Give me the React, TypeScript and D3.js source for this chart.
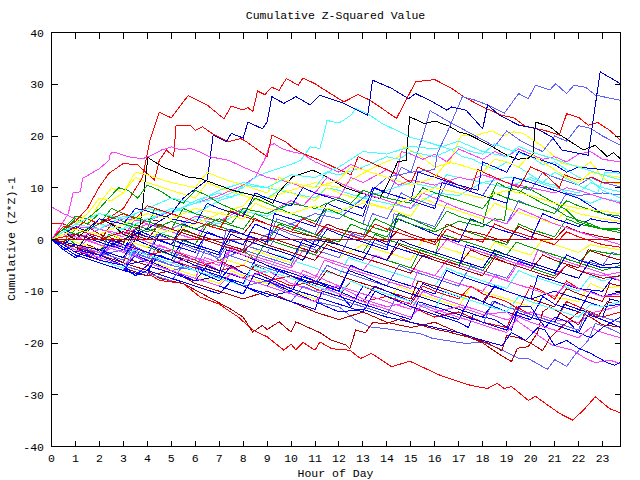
import React from "react";
import * as d3 from "d3";

type P = [number, number];

const title = "Cumulative Z-Squared Value";
const xLabel = "Hour of Day";
const yLabel = "Cumulative (Z*Z)-1";
const xTicks = d3.range(0, 24);
const yTicks = [-40, -30, -20, -10, 0, 10, 20, 30, 40];
const X_MAX = 23.75;

const C_RED = "#ff0000";
const C_DRED = "#b40000";
const C_BLUE = "#0000ff";
const C_DBLUE = "#0000c0";
const C_SLATE = "#6060ff";
const C_MAG = "#ff40ff";
const C_CYAN = "#40ffff";
const C_YEL = "#ffff00";
const C_GRN = "#00a000";
const C_BLK = "#000000";

const redA: P[] = [[0,0],[1,1],[2,3],[3,6],[3.8,12],[4.1,19],[4.5,24.6],[5,23.5],[5.7,27.8],[6.5,26],[7.2,23.3],[7.5,25.8],[8,25],[8.2,25.5],[8.4,24.7],[8.6,28.7],[8.9,28],[9.2,29.4],[9.5,28.8],[9.8,31.1],[10.3,29.8],[10.5,31.2],[11,30.1],[11.3,29.2],[12.2,26.6],[12.8,28],[13.3,26.9],[14.4,23.4],[15.2,30.5],[16,30.9],[16.7,29.2],[17.2,27.6],[18,25.6],[18.8,24],[19.3,23.5],[19.8,21.8],[20.5,21.2],[21.2,20.2],[21.5,24.3],[22,23.6],[22.4,22.1],[22.8,22.6],[23.3,21.1],[23.75,19.2]];
const dblueB: P[] = [[0,0],[1,-1],[2,-2],[3,0],[4,2],[5,5],[5.5,8],[6.5,11.5],[6.75,20.2],[7.3,18.9],[7.5,20.5],[8,19.6],[8.2,22.7],[8.8,21.4],[9,22.7],[9.2,27.6],[9.7,26.3],[10.2,27.6],[10.8,26],[11.2,27.9],[12.2,26.3],[13.2,24],[13.4,30.8],[14.2,29.2],[14.9,27.2],[15.2,28.2],[15.9,26.6],[16.5,25],[16.7,25.6],[17.3,25],[18,21.4],[18.2,26],[18.7,24],[19.5,22.1],[20.2,21.5],[20.9,19.8],[21.3,17.3],[22.4,16.3],[22.9,32.4],[23.75,30.1]];
const redC: P[] = [[0,0],[0.5,2],[1,3.5],[1.5,6],[2,10.2],[2.4,12.8],[3,14.7],[3.6,14.4],[4.3,11.5],[4.5,15.3],[4.8,17.3],[5.1,16],[5.2,22.1],[5.8,22],[6,21.1],[6.3,21.8],[6.7,20.5],[7.4,18.9],[7.9,19.5],[8.1,19],[9,16],[9.2,20.2],[9.8,18.8],[10.1,17.6],[10.5,16.6],[11.2,15.3],[12,13.5],[12.5,12.5],[12.8,16],[13.5,14.5],[14.5,12.5],[15,11],[15.3,14],[16,12.5],[17,10.5],[17.5,9.5],[17.8,13.5],[18.5,12],[19.5,10],[20,14],[20.5,13],[21.2,10],[21.4,12.5],[22,11.5],[22.6,12],[23,11],[23.75,11.1]];
const redD: P[] = [[0,0],[0.5,-1],[1,-2],[2,-3.5],[3,-5],[4,-6.5],[4.5,-7.9],[5.5,-8.5],[6.2,-11.1],[7,-12.5],[7.8,-15],[8.4,-17.5],[9,-18.8],[9.7,-21.4],[10,-20.2],[10.2,-21.3],[10.5,-19.9],[11,-21.4],[11.2,-19.8],[11.7,-21.1],[12.45,-21.4],[12.9,-23],[13.35,-22],[14.2,-24.6],[14.95,-23.5],[16.2,-26.2],[16.7,-27],[17.5,-28.2],[18.2,-28.8],[18.6,-27.8],[18.9,-28.8],[19.2,-28.4],[19.9,-31.1],[20.2,-30.3],[21.2,-33.6],[21.75,-34.9],[22.2,-33],[22.7,-30.4],[23.3,-32.7],[23.75,-33.5]];
const dredE: P[] = [[0,0],[1,-1.5],[2,-3],[3,-4.5],[4,-6],[4.5,-7.5],[5.5,-8.5],[6.5,-11],[7.5,-13.5],[8,-15],[8.4,-17.9],[8.8,-16.6],[9,-17.4],[9.5,-15.9],[10,-17.9],[10.2,-15.9],[11.2,-18],[11.7,-19.5],[12.3,-20.4],[12.45,-21.1],[12.7,-17.5],[13.1,-18],[13.4,-16.1],[14,-16.2],[14.6,-15.3],[15,-16],[15.9,-17.2],[16.6,-17.9],[17.5,-19],[18.2,-20],[18.8,-21.5],[19,-18.5],[19.5,-19],[20,-20],[20.5,-21.5],[20.8,-19],[21.5,-16],[22,-14],[22.5,-15],[23,-16.5],[23.75,-16.9]];
const blackF: P[] = [[0,0],[0.5,1.5],[1,0],[1.5,2],[2,4],[2.5,3],[3,1],[3.6,0],[3.8,6],[3.9,11],[4.03,16],[4.1,15.6],[4.65,14],[5.2,13],[5.65,12.1],[6.2,11.8],[7.57,9.5],[8.7,8.2],[9.24,7],[9.45,8.9],[9.8,10.8],[10.07,12.1],[10.5,12.8],[10.9,13.4],[11.2,12.8],[12.3,9.9],[13,8.9],[13.7,7.9],[14,10.5],[14.25,13],[14.45,15],[14.8,15.3],[14.95,23.7],[15.57,22.4],[16,22.9],[16.6,21.9],[17,20.8],[17.4,20.3],[18.3,18.2],[19,16.3],[19.45,15.5],[19.9,15.7],[20.1,16.5],[20.2,22.7],[20.8,21.8],[21.2,20.3],[22.2,17.3],[22.7,18.2],[23.2,16],[23.45,16.8],[23.75,15.6]];
const slateG: P[] = [[0,0],[1,-1.5],[2,-2.5],[3,-4],[3.4,-1],[4,-3],[5,-5],[6,-6],[6.4,-2],[7,-4],[8,-2],[9,1],[10,3],[11,5],[12,4],[13,8],[14,12],[15,13],[16,13.5],[16.1,16.6],[16.5,20.5],[17.15,27.6],[17.7,26.9],[18.2,26],[18.9,24.4],[19.5,28.2],[19.9,27.2],[20.2,29.8],[20.8,28.9],[21.05,30.1],[21.5,28.2],[21.8,29.8],[22.3,29.4],[22.7,27.9],[23.75,26.9]];
const cyanI: P[] = [[0,0],[1,1],[2,0],[3,2],[4,4],[5,5.5],[6,7],[7,8],[8,10],[8.5,12],[9,13],[10,14.5],[10.4,15.3],[10.8,17.9],[11.2,17.6],[11.35,20],[11.5,23],[12,22.5],[12.5,24],[12.7,25.3],[13.2,24.3],[13.8,22.4],[14.4,21.1],[14.95,19.8],[15.65,18.9],[16.7,17.3],[17.15,16],[17.6,15.5],[18,14.5],[18.5,13.5],[19,15],[19.5,14],[20,12.5],[20.5,11],[21,13],[21.6,11.5],[22.2,10],[22.8,9],[23.1,13],[23.75,12.8]];
const magJ: P[] = [[0,0],[0.3,2],[0.7,5],[0.9,9],[1.2,9.2],[1.3,11.8],[2,13.7],[2.4,15.3],[2.45,16.6],[2.6,16.9],[3.2,16],[3.8,15.6],[4.2,16.3],[4.6,17.3],[5,17.9],[5.4,17.3],[5.8,17.6],[6.2,16.9],[6.6,16],[7.4,15.3],[8,14],[9,12],[10,11],[11,9],[11.5,12],[12,11],[13,9],[14,7.5],[15,6],[15.5,9],[16,8],[17,6],[18,4.5],[19,3],[19.5,6],[20,5],[21,3],[22,1.5],[23,0],[23.75,-1]];
const blueM: P[] = [[0,0],[1,-2],[2,-3],[3,-5],[4,-4],[5,-6],[6,-8],[7,-7],[8,-9],[9,-11],[10,-10],[11,-12],[12,-14],[13,-13.5],[14,-15],[15,-16],[16,-17],[17,-18],[18,-19.5],[18.8,-20.5],[19.2,-18],[19.8,-19.5],[20.3,-17],[20.6,-17.5],[21,-20.5],[21.5,-19.5],[22,-21],[22.5,-22],[23.2,-23.8],[23.5,-24.3],[23.75,-23.7]];
const slate5: P[] = [[0,0],[1,-1.5],[2,-3],[3,-2],[4,-4.5],[5,-6],[6,-5],[7,-7.5],[8,-9],[9,-8],[10,-10.5],[11,-12],[12,-13],[12.7,-15.6],[13.3,-16.9],[13.9,-17.2],[15.4,-18.2],[15.9,-19.1],[17.3,-20.1],[18,-19.8],[18.7,-21.1],[19.5,-23],[19.9,-23],[20.7,-25.1],[21,-23.2],[21.5,-24.5],[21.9,-22],[22.4,-19.5],[22.7,-16.2],[23.2,-17],[23.75,-18.2]];
const mag5: P[] = [[0,0],[1,-1],[2,-2.5],[3,-1],[4,-3],[5,-4.5],[6,-3.5],[7,-6],[8,-7.5],[9,-6],[10,-8.5],[11,-10],[12,-9],[13,-11.5],[14,-13],[15,-12],[16,-14],[17,-13],[18,-14.5],[19,-14],[19.4,-15.6],[19.8,-16.9],[20.9,-20.4],[21.75,-21.4],[22.3,-23],[22.7,-23.8],[23.3,-23.3],[23.75,-24]];
const dred3: P[] = [[0,0],[1,-2],[2,-4],[3,-5.5],[4,-7],[5,-6],[6,-8.5],[7,-10],[8,-11.5],[9,-10],[10,-12],[11,-14],[12,-15.5],[13,-14],[14,-16],[15,-17],[16,-16],[17,-18],[18,-20],[18.8,-22.5],[19.2,-23.6],[19.45,-21],[19.9,-20.7],[20.3,-17.9],[20.5,-14],[20.8,-13],[21,-13.5],[21.5,-15],[22,-16.5],[22.3,-14],[22.8,-15],[23.2,-12],[23.75,-12.7]];
const red2: P[] = [[0,0],[0.5,-1.5],[1,-1],[2,-3],[3,-4.5],[3.3,-1],[4,-2.5],[5,-4],[6,-5.5],[7,-4],[8,-6.5],[9,-8],[10,-7],[11,-9.5],[12,-11],[12.5,-8],[13,-9],[14,-11],[15,-12.5],[15.5,-9],[16,-10],[17,-11.5],[17.5,-9],[18,-10.5],[19,-12],[19.5,-13.5],[20,-9],[20.5,-10],[21,-11.5],[21.5,-8],[22,-9.5],[23,-11],[23.75,-11]];
const red3: P[] = [[0,3],[0.5,3],[1,2],[2,0.5],[3,-1],[4,-3],[5,-2],[6,-4],[7,-6],[8,-5],[9,-7],[10,-9],[11,-8],[12,-10],[13,-12],[14,-11],[15,-13],[16,-15],[17,-14],[18,-16],[19,-17],[19.4,-13],[20,-14.5],[21,-16],[21.5,-12],[22,-13],[23,-15],[23.75,-14]];
const blue4: P[] = [[0,0],[0.5,-2],[1,-1],[1.5,-3],[2,-2],[3,-4.5],[4,-6],[4.5,-3],[5,-4],[6,-6],[7,-8],[7.5,-5],[8,-6.5],[9,-8],[10,-10],[10.5,-7],[11,-8],[12,-10],[13,-12],[13.5,-9],[14,-10],[15,-12],[16,-14],[17,-15.5],[17.5,-11],[18,-12],[19,-14],[20,-15.5],[20.5,-11],[21,-12.5],[22,-14],[22.5,-10],[23,-11],[23.75,-10.1]];
const dblue2: P[] = [[0,0],[0.5,1],[1,-0.5],[2,-2],[3,-3.5],[3.5,0],[4,-1],[5,-3],[6,-5],[7,-6.5],[7.3,-2],[8,-3],[9,-5],[10,-7],[11,-8.5],[12,-10],[12.4,-6],[13,-7],[14,-9],[15,-10.5],[16,-12],[17,-13.5],[18,-15],[18.5,-12],[19,-13],[20,-14.5],[21,-16],[21.4,-12.5],[22,-13.5],[23,-15],[23.3,-11.5],[23.75,-12]];
const mag4: P[] = [[0,0],[0.5,-1],[1,-2.5],[2,-4],[2.5,-1],[3,-2],[4,-4],[5,-6],[6,-7.5],[6.4,-3.5],[7,-4.5],[8,-6.5],[9,-8],[10,-9.5],[10.5,-6],[11,-7],[12,-9],[13,-10.5],[14,-12],[15,-13.5],[15.5,-10],[16,-11],[17,-12.5],[18,-14],[19,-15.5],[20,-14],[21,-15.5],[22,-16],[22.7,-14],[23.2,-13.5],[23.75,-12.7]];
const blue5: P[] = [[0,0],[0.5,-1.5],[1,-3],[2,-4.5],[3,-6],[3.5,-3],[4,-4],[5,-6],[6,-7.5],[7,-9],[8,-10.5],[8.5,-6.5],[9,-7.5],[10,-9.5],[11,-11],[12,-12.5],[13,-14],[13.5,-10],[14,-11],[15,-13],[16,-14.5],[17,-16],[17.4,-17],[17.6,-14.5],[18.5,-15.5],[19.2,-17.5],[19.5,-13],[20,-13],[20.6,-17],[21,-15],[21.6,-16],[22,-18],[22.5,-19],[23,-17],[23.75,-15]];
const blue2: P[] = [[0,0],[0.5,-1],[1,1],[2,-0.5],[3,-2],[3.5,2],[4,1],[5,-1],[5.5,3],[6,2],[7,0.5],[8,-1],[8.5,3],[9,2],[10,0],[11,-1.5],[11.5,2],[12,1],[13,-0.5],[14,-2],[14.4,4],[15,3],[16,1],[17,-0.5],[17.5,4],[18,3],[19,1.5],[20,0],[20.5,5],[21,4],[22,2.5],[22.5,4],[23,3.5],[23.75,3.1]];
const green1: P[] = [[0,0],[0.5,1.5],[1,4],[1.5,3],[2,5],[3,3.5],[4,2],[4.3,6],[5,5],[6,3.5],[7,2],[7.5,6],[8,5],[9,3],[10,1.5],[10.5,4],[11,3],[12,1.5],[13,0],[13.5,4],[14,3],[15,1],[16,-0.5],[16.5,3],[17,2],[18,0.5],[19,-1],[19.5,3],[20,2],[21,0.5],[21.5,4],[22,3],[23,2],[23.75,2.2]];
const green2: P[] = [[0,0],[0.5,2],[1,1],[2,3],[2.5,6],[3,5],[4,3.5],[5,2],[5.5,6],[6,5],[7,3.5],[8,2],[8.5,5],[9,4],[10,2.5],[11,1],[12,-0.5],[12.5,3],[13,2],[14,0.5],[14.5,4],[15,3],[16,1.5],[17,3.5],[18,2.5],[18.5,4],[18.9,3.7],[19.1,9.5],[19.5,9],[19.8,10.2],[20.3,8.9],[20.9,7.3],[21.5,5.7],[22,3.4],[22.9,2.1],[23.75,1.8]];
const green3: P[] = [[0,0],[0.5,-0.5],[1,2],[2,0.5],[3,-1],[3.4,3],[4,2],[5,0.5],[6,-1],[6.5,3],[7,2.5],[8,1],[9,-0.5],[9.5,3],[10,2],[11,0.5],[12,-1],[13,-2.5],[13.5,1],[14,0],[15,-1.5],[16,-3],[16.3,1],[17,0],[18,-1.5],[19,-3],[19.4,-0.5],[20,-1.5],[21,-3],[22,-4.5],[22.5,-2],[23,-2.5],[23.75,-3]];
const green4: P[] = [[0,0],[0.5,1],[1,-1],[2,-2.5],[2.4,1],[3,0],[4,-1.5],[5,-3],[5.3,2],[6,1],[7,-0.5],[8,-2],[8.5,-4],[9,0],[10,-1.5],[11,-3],[11.5,0],[12,-1],[13,-2.5],[14,-4],[15,-5.5],[15.4,-2],[16,-3],[17,-4.5],[18,-6],[18.5,-3],[19,-4],[20,-5.5],[21,-7],[21.3,-3.5],[22,-4.5],[23,-6],[23.75,-5]];
const green5: P[] = [[0,0],[0.5,2],[1,4.5],[1.5,4],[2,6],[2.8,10],[3.2,9.5],[3.6,8],[4,10.5],[4.5,9.5],[5,8],[5.5,7],[6,9.5],[6.5,8.5],[7,7],[8,5],[8.5,8],[9,7],[10,5],[11,3.5],[11.5,6],[12,5],[13,3],[14,1.5],[14.5,5],[15,4],[16,2],[16.5,5.5],[17,4.5],[18,3],[18.3,8],[18.6,11],[19,10],[19.5,9.5],[20.5,7],[21,6],[21.5,4.5],[22.5,3],[23,2],[23.75,1.3]];
const green6: P[] = [[0,0],[0.5,1],[1,2],[2,1],[3,3],[4,1.5],[5,3.5],[6,2],[7,4],[7.5,3],[8,6],[9,5],[10,7],[11,6],[12,8],[12.5,7],[13,9.5],[14,8],[15,7],[15.5,10],[16,9],[17,7.5],[18,6],[18.5,9],[19,8],[20,6.5],[21,5],[21.5,7.5],[22,6.5],[23,5],[23.75,4.5]];
const dred1: P[] = [[0,0],[0.5,1],[1,3],[1.5,2.5],[2,1],[3,-0.5],[3.5,2],[4,4],[4.5,3.5],[5,5],[6,3.5],[7,2],[8,1],[8.5,4],[9,3],[10,1.5],[11,0.5],[11.5,3],[12,2],[13,1],[14,-0.5],[14.5,2],[15,1],[16,-0.5],[16.5,3],[17,2],[18,1],[19,-0.5],[19.5,2.5],[20,1.5],[21,0],[21.5,2.5],[22,1.5],[23,0.5],[23.75,-0.1]];
const dred2: P[] = [[0,0],[0.5,2],[1,1],[2,-0.5],[2.5,3],[3,2],[4,0.5],[5,-1],[5.5,2],[6,1],[7,-0.5],[8,-2],[8.3,1.5],[9,0.5],[10,-1],[11,-2.5],[11.5,0],[12,-1],[13,-2.5],[14,-4],[14.5,-1],[15,-2],[16,-3.5],[17,-5],[17.5,-2],[18,-3],[19,-4.5],[20,-6],[20.5,-3],[21,-4],[22,-5.5],[22.4,-2],[23,-3],[23.75,-4]];
const dred4: P[] = [[0,0],[0.5,-1],[1,-2.5],[1.5,-1],[2,-2],[3,-3.5],[4,-5],[4.5,-2],[5,-3],[6,-4.5],[7,-6],[8,-7.5],[8.5,-5],[9,-6],[10,-7.5],[11,-9],[11.5,-6],[12,-7],[13,-8.5],[14,-10],[15,-11.5],[15.3,-8],[16,-9],[17,-10.5],[18,-12],[18.5,-9],[19,-10],[20,-11.5],[21,-13],[21.5,-9.5],[22,-10.5],[23,-12],[23.3,-8.5],[23.75,-9]];
const dred5: P[] = [[0,0],[0.5,-0.5],[1,1],[2,0],[3,1.5],[4,0],[4.5,3],[5,2],[6,0.5],[7,-1],[8,-2.5],[8.5,0],[9,-1],[10,-2.5],[11,-4],[11.5,-1],[12,-2],[13,-3.5],[14,-5],[15,-6.5],[15.5,-3],[16,-4],[17,-5.5],[18,-7],[18.5,-3.5],[19,-4.5],[20,-6],[21,-7.5],[21.5,-5],[22,-6],[23,-7.5],[23.75,-7]];
const yel1: P[] = [[0,0],[0.5,1],[1,-0.5],[2,-2],[2.5,1],[3,0],[4,-1.5],[4.5,2],[5,1.5],[6,3],[7,5],[8,6.5],[8.5,9],[9,8],[10,9.5],[11,11],[12,10],[13,12.8],[13.8,14.7],[14.5,16],[14.7,17.9],[15.3,16.5],[16,14],[16.6,14.7],[16.9,18],[17.1,20.1],[17.6,20],[18,20.5],[18.4,21],[18.8,20],[19.3,20.8],[19.7,20.5],[20,19.5],[20.5,18],[21,16],[21.3,14.7],[22.2,14],[22.5,15],[23,12],[23.3,11],[23.75,10.8]];
const yel2: P[] = [[0,0],[0.5,-1],[1,-2],[1.5,1],[2,0],[3,-1.5],[4,-3],[5,-4.5],[5.5,-1],[6,-2],[7,-3.5],[8,-5],[8.5,-2],[9,-3],[10,-4.5],[10.5,-1],[11,-2],[12,-3.5],[13,-1],[14,-2.5],[15,-4],[15.5,0],[16,-1],[17,-2.5],[18,-4],[18.5,-0.5],[19,-1.5],[20,-3],[20.5,0],[21,-1],[22,-2.5],[22.5,-1],[23,-1.5],[23.75,-2]];
const yel3: P[] = [[0,0],[0.5,-1.5],[1,-3],[2,-4.5],[3,-6],[3.5,-3],[4,-4],[5,-5.5],[6,-7],[7,-8.5],[7.5,-6],[8,-7],[9,-8.5],[10,-10],[11,-11.5],[11.5,-8],[12,-9],[13,-10.5],[14,-12],[14.5,-9],[15,-10],[16,-11.5],[17,-13],[17.5,-9],[18,-10],[19,-11.5],[20,-13],[20.5,-10],[21,-11],[22,-12],[22.5,-8.5],[23,-9.5],[23.75,-9]];
const yel4: P[] = [[0,0],[0.5,2],[1,3.5],[1.5,3],[2,7],[2.5,10],[3,9],[3.5,12],[4,11],[5,9.5],[6,8],[6.5,11],[7,10],[8,8.5],[9,7],[9.5,10],[10,9],[11,7.5],[11.5,10],[12,9],[13,7.5],[14,6],[15,4.5],[15.5,8],[16,7],[17,5.5],[18,4],[18.5,7],[19,6],[20,4.5],[21,3],[21.5,6],[22,5],[23,4],[23.75,3.5]];
const yel5: P[] = [[0,0],[0.5,1.5],[1,3],[1.5,5],[2,8],[2.5,7.5],[3,9],[3.5,13],[4,12.5],[5,11],[6,10],[6.5,13],[7,12],[8,10.5],[9,9],[9.5,12],[10,11],[11,10],[12,11.5],[12.5,14],[13,13.5],[14,12],[15,10.5],[16,12],[16.5,15],[17,14.5],[18,13],[18.5,15.5],[19,15],[19.5,14],[20,16.5],[20.5,15],[21,13.5],[21.5,12],[22,11],[22.5,13],[23,12.5],[23.75,12]];
const yel6: P[] = [[0,0],[0.5,1],[1,2],[2,1],[3,3],[4,5],[5,4],[6,6],[7,5],[8,4],[8.5,7],[9,6],[10,5],[11,6.5],[12,5.5],[13,7],[14,6],[15,8],[16,10],[17,9],[18,8],[19,9.5],[20,8.5],[21,7],[22,6],[23,5.5],[23.75,5]];
const mag1: P[] = [[0,0],[0.5,1],[1,0],[2,2],[3,1],[4,3],[5,2],[6,4.5],[7,3.5],[8,6],[9,5],[10,7.5],[10.5,6.5],[11,9],[12,8],[12.5,12],[13,11],[14,13.5],[14.4,12.5],[14.6,17],[15,16.5],[15.5,15.5],[16,16.5],[16.5,15],[17,17.5],[17.5,16.5],[18,15.5],[18.5,17],[19,16],[19.5,17.5],[20,16.5],[20.5,15.5],[21,16],[21.5,15],[22,16.5],[22.5,17],[23,15.5],[23.75,15]];
const mag2: P[] = [[0,0],[0.5,-1],[1,-2.5],[1.5,0],[2,-1],[3,-2.5],[4,-4],[4.5,-1],[5,-2],[6,-3.5],[7,-5],[7.5,-1.5],[8,-2.5],[9,-4],[10,-5.5],[10.5,-2],[11,-3],[12,-4.5],[13,-6],[13.5,-3],[14,-4],[15,-5.5],[16,-7],[16.5,-4],[17,-5],[18,-6.5],[19,-8],[19.5,-4.5],[20,-5.5],[21,-7],[21.5,-5],[22,-6],[23,-7],[23.75,-6.3]];
const mag3: P[] = [[0,6.3],[0.5,5],[1,4],[1.5,3],[2,2],[3,0.5],[3.5,4],[4,3],[5,1.5],[6,0],[6.5,3.5],[7,2.5],[8,1],[9,-0.5],[9.5,3],[10,2],[11,0.5],[12,-1],[13,-2.5],[13.5,1],[14,0],[15,-1.5],[16,-3],[16.5,0],[17,-1],[18,-2.5],[19,-4],[20,-5.5],[20.3,-2],[21,-3.5],[22,-5],[23,-6.5],[23.75,-8]];
const mag6: P[] = [[0,0],[0.5,1.5],[1,0.5],[2,-1],[3,-2.5],[3.5,0.5],[4,-0.5],[5,-2],[6,-3.5],[7,-5],[7.5,-2],[8,-3],[9,-4.5],[10,-6],[11,-7.5],[11.4,-4],[12,-5],[13,-6.5],[14,-8],[15,-9.5],[15.3,-6],[16,-7],[17,-8.5],[18,-10],[18.5,-7],[19,-8],[20,-9.5],[21,-11],[21.5,-8.5],[22,-9.5],[23,-11],[23.75,-10.5]];
const mag7: P[] = [[0,0],[1,-2],[2,-3.5],[3,-5],[3.5,-3],[4,-4.5],[5,-6],[6,-7.5],[7,-9],[7.5,-6.5],[8,-7.5],[9,-9],[10,-10.5],[11,-12],[11.5,-9.5],[12,-10.5],[13,-12],[14,-13.5],[15,-15],[15.5,-12.5],[16,-13.5],[17,-15],[18,-16.5],[19,-18],[19.5,-15],[20,-16],[21,-17.5],[22,-19],[22.5,-17],[23,-18],[23.75,-19]];
const magK: P[] = [[0,0],[0.5,1],[1,2.5],[2,2],[3,4],[4,3.5],[5,5.5],[6,7],[7,8.5],[8,10.5],[8.5,12],[8.9,15.5],[9.1,18.2],[9.3,18.5],[9.6,17.6],[10,17],[10.5,16.5],[11,15],[11.5,14],[12,13],[12.5,14.5],[13,13.5],[14,12],[14.5,10.5],[15,11.5],[16,10.5],[17,12],[17.5,11.5],[18,12.5],[19,11],[20,10],[21,9],[21.5,10],[22,9.5],[23,8],[23.75,7]];
const cyan2: P[] = [[0,0],[0.5,1.5],[1,1],[2,3],[3,2],[3.5,5],[4,6],[5,5],[6,7.5],[7,9],[7.5,8],[8,10.5],[9,10],[10,9],[11,8],[11.5,10],[12,9.5],[13,8],[14,9.5],[15,11],[16,10],[16.5,12.5],[17,12],[18,11],[19,12],[20,11.5],[21,10],[22,9],[22.5,11],[23,10],[23.75,9.2]];
const cyan3: P[] = [[0,0],[0.5,-1],[1,0.5],[2,-1],[3,-2.5],[3.5,1],[4,0],[5,2],[6,4],[7,3],[8,5.5],[9,4.5],[10,7],[11,6],[12,5],[13,8],[14,7],[15,6],[16,9],[17,8.5],[18,11],[19,10],[20,12],[20.5,11],[21,10.5],[21.5,9],[22,8],[22.5,7],[23,8],[23.75,7.3]];
const cyan4: P[] = [[0,0],[0.5,-0.5],[1,-2],[2,-3],[2.5,0],[3,-1],[4,-2.5],[5,-4],[5.5,-1],[6,-2],[7,-3.5],[8,-5],[9,-6.5],[9.5,-3],[10,-4],[11,-5.5],[12,-7],[12.4,-3.5],[13,-4.5],[14,-6],[15,-7.5],[16,-9],[16.5,-5.5],[17,-6.5],[18,-8],[19,-9.5],[19.5,-6],[20,-7],[21,-8.5],[22,-10],[22.5,-7],[23,-8],[23.75,-7]];
const cyan5: P[] = [[0,0],[0.5,1],[1,3],[2,2],[3,4.5],[4,3.5],[5,6],[6,5],[7,7.5],[8,9],[9,8],[10,11],[11,10],[11.5,13],[12,12.5],[13,14],[14,16],[14.5,15.5],[15,17],[16,16],[17,18],[17.5,17],[18,16.5],[18.5,18.5],[19,17.5],[20,16],[20.5,14.5],[21,15],[21.5,13.5],[22,12],[22.5,11.5],[23,9.5],[23.75,8]];
const cyan6: P[] = [[0,0],[0.5,-1],[1,-2.5],[2,-4],[3,-5.5],[3.4,-2],[4,-3],[5,-4.5],[6,-6],[7,-7.5],[8,-9],[8.4,-5],[9,-6],[10,-7.5],[11,-9],[12,-10.5],[12.5,-8],[13,-9],[14,-10.5],[15,-12],[16,-13.5],[16.4,-10],[17,-11],[18,-12.5],[19,-14],[19.5,-11],[20,-12],[21,-13.5],[22,-15],[22.5,-12.5],[23,-13],[23.75,-12]];
const cyan7: P[] = [[0,0],[0.5,1.5],[1,3],[2,5],[3,4],[4,6],[5,8],[6,7],[7,9.5],[8,11],[9,10],[10,12.5],[11,12],[12,14],[13,17],[14,16.5],[15,18],[16,17.5],[17,19],[18,17],[19,16],[19.5,18],[20,17],[21,15.5],[22,14],[23,12.5],[23.75,11.5]];
const slate2: P[] = [[0,0],[0.5,-1],[1,-2],[2,-3.5],[2.5,-1],[3,-2],[4,-3.5],[5,-5],[5.5,-1],[6,-2],[7,-3.5],[7.5,0],[8,-1],[9,-2.5],[9.5,2],[10,1],[11,-0.5],[11.5,3],[12,2],[13,0.5],[13.4,5],[14,4],[14.6,9],[15,8],[16,6.5],[16.5,11],[17,10],[18,8.5],[18.5,12],[19,11],[20,9.5],[20.5,13],[21,12],[22,10.5],[22.5,12],[23,11],[23.75,10.2]];
const slate3: P[] = [[0,0],[0.5,1],[1,-0.5],[2,-2],[3,-3.5],[3.5,0],[4,-1],[5,-2.5],[6,-4],[6.4,0.5],[7,-0.5],[8,-2],[9,-3.5],[10,-5],[10.4,-1],[11,-2],[12,-3.5],[12.5,1],[13,0],[14,-1.5],[14.3,5],[15,4],[16,2.5],[16.5,7],[17,6],[18,4.5],[19,3],[19.5,7.5],[20,6.5],[21,5],[21.5,9],[22,8.5],[23,9],[23.75,8.6]];
const slate4: P[] = [[0,0],[0.5,-1.5],[1,-3],[2,-4.5],[3,-6],[3.5,-2],[4,-3],[5,-4.5],[6,-6],[7,-7.5],[7.4,-3],[8,-4],[9,-5.5],[10,-7],[11,-8.5],[11.5,-5],[12,-6],[13,-7.5],[14,-9],[14.5,-5],[15,-6],[16,-7.5],[17,-9],[17.5,-5],[18,-6],[19,-7.5],[19.5,-4],[20,-5],[21,-6.5],[21.5,-3],[22,-4],[23,-5],[23.4,-2.5],[23.75,-3]];
const slate6: P[] = [[0,0],[0.5,-1],[1,-2],[2,-3.5],[3,-5],[4,-6.5],[5,-8],[5.5,-5],[6,-6],[7,-7.5],[8,-9],[9,-10.5],[10,-12],[10.5,-9],[11,-10],[12,-11.5],[13,-13],[14,-14.5],[14.4,-11],[15,-12],[16,-13.5],[17,-15],[18,-16.5],[18.4,-12],[19,-13],[20,-14.5],[21,-16],[22,-17.5],[22.3,-14],[23,-15],[23.75,-16]];
const slateH: P[] = [[0,0],[1,-2],[2,-3.5],[2.3,0],[3,-1.5],[4,-3.5],[4.4,1],[5,0],[6,-2],[7,-3.5],[7.3,2],[8,1],[9,-1],[9.4,4],[10,3],[11,1],[11.5,6],[12,5],[13,3],[13.4,9],[14,8],[14.6,14],[15,13],[15.5,20],[15.8,24.9],[16.5,23],[17.5,20.5],[18.5,18],[19,21],[19.6,19],[20.5,17],[21,20],[21.5,19],[22,22],[22.5,21.5],[23,20],[23.75,18.2]];
const blue1: P[] = [[0,0],[0.5,-1],[1,-2],[2,-3.5],[2.5,0],[3,-1],[4,-2.5],[5,-4],[5.5,0],[6,-1],[7,-2.5],[7.5,2],[8,1],[9,-0.5],[9.3,5],[10,4],[11,2.5],[11.5,7],[12,6],[13,4.5],[13.4,10],[14,9],[15,7.5],[15.3,13],[16,12],[17,10.5],[17.8,9.5],[18,15],[18.5,14],[19,13],[19.5,17],[20,16],[21,14.5],[21.5,13],[22,14],[23,13.5],[23.75,13]];
const blue3: P[] = [[0,0],[0.5,2],[1,0.5],[2,-1],[3,-2.5],[3.5,1.5],[4,0.5],[5,-1],[6,-2.5],[6.5,1.5],[7,0.5],[8,-1],[9,-2.5],[10,-4],[10.5,0],[11,-1],[12,-2.5],[13,-4],[13.5,0],[14,-1],[15,-2.5],[16,-4],[17,-5.5],[17.3,-1],[18,-2],[19,-3.5],[20,-5],[21,-6.5],[21.5,-3],[22,-4],[23,-5.5],[23.75,-5.5]];
const blue6: P[] = [[0,0],[0.5,-1.5],[1,-3],[2,-4.5],[3,-6],[4,-7],[4.3,-3],[5,-4],[6,-5.5],[7,-7],[8,-8.5],[8.5,-4],[9,-5],[10,-6.5],[11,-8],[12,-9.5],[12.5,-5],[13,-6],[14,-7.5],[15,-9],[16,-10.5],[16.5,-6],[17,-7],[18,-8.5],[19,-10],[20,-11.5],[20.3,-7],[21,-8],[22,-9.5],[23,-10],[23.4,-7.5],[23.75,-8]];
const blue7: P[] = [[0,0],[0.5,-2],[1,-3.5],[1.5,-2],[2,-4],[3,-5.5],[3.5,-7],[4,-5],[5,-6.5],[6,-8],[6.5,-5],[7,-6],[8,-7.5],[9,-9],[9.5,-6],[10,-7],[11,-9],[12,-10.5],[12.5,-13],[13,-9],[14,-10.5],[15,-12],[15.5,-8.5],[16,-9.5],[17,-11],[18,-12.5],[18.5,-9],[19,-10],[20,-11.5],[21,-10],[22,-11.5],[23,-13],[23.75,-12.5]];
const blue8: P[] = [[0,0],[0.5,1],[1,2.5],[1.5,1.5],[2,4],[3,3],[3.5,6],[4,5.5],[5,4],[6,3],[6.5,7],[7,6],[8,4.5],[8.5,9],[9,8],[10,6.5],[10.5,10],[11,9],[12,7.5],[13,6],[13.5,10],[14,9],[15,7.5],[16,6],[16.3,11],[17,10],[18,8.5],[19,7],[19.3,12],[20,11],[21,9.5],[22,8],[22.5,6.5],[23,5],[23.75,4]];
const blue9: P[] = [[0,0],[0.5,-1],[1,-2.5],[2,-4],[3,-5],[3.5,-7],[4,-6],[5,-7.5],[6,-9],[7,-10.5],[7.5,-8],[8,-9],[9,-10.5],[10,-12],[11,-13.5],[11.3,-10],[12,-11],[13,-12.5],[14,-14],[15,-15.5],[15.3,-12],[16,-13],[17,-14.5],[18,-16],[19,-17.5],[19.4,-14],[20,-15],[21,-16.5],[22,-18],[22.4,-14.5],[23,-15.5],[23.75,-17]];
const dblue3: P[] = [[0,0],[0.5,-1],[1,-2.5],[1.5,1],[2,0],[3,-1.5],[4,-3],[4.5,1],[5,0],[6,-1.5],[7,-3],[7.5,1],[8,0],[9,-1.5],[10,-3],[10.5,-4],[11,0],[12,-1],[13,-2.5],[14,-4],[14.5,0],[15,-1],[16,-2.5],[17,-4],[18,-5.5],[18.5,-2],[19,-3],[20,-4.5],[21,-6],[22,-7.5],[22.5,-4],[23,-5],[23.75,-4.5]];
const red5: P[] = [[0,0],[0.5,2.5],[1,2],[1.5,4],[2,3],[3,5],[3.5,4],[4,6.5],[5,5],[6,3.5],[7,2],[7.5,5.5],[8,4.5],[9,3],[10,1.5],[10.5,4],[11,3],[12,1.5],[13,0],[13.5,3],[14,2],[15,0.5],[16,-1],[16.5,2],[17,1],[18,-0.5],[18.5,3],[19,2],[20,0.5],[21,-1],[21.5,1.5],[22,0.5],[23,-1],[23.75,-1.5]];
const zeroLine: P[] = [[0,0],[23.75,0]];

const seriesData: P[][] = [yel3, cyan4, mag2, green4, slate4, dred4, blue6, red2, cyan3, yel2, mag3, green3, slate3, dred2, blue3, dblue3, red3, cyan2, mag4, yel4, slate2, green1, dred1, blue2, magK, cyanI, slate5, blue5, dblue2, yel1, mag1, redC, dred3, blue4, slateH, redA, cyan5, blackF, slateG, mag5, redD, dblueB, blue1, dredE, green2, green5, magJ, blueM, yel5, blue7, slate6, mag6, cyan6, blue8, dred5, green6, red5, mag7, blue9, cyan7, yel6];
const seriesColors: string[] = [C_YEL, C_CYAN, C_MAG, C_GRN, C_SLATE, C_DRED, C_BLUE, C_RED, C_CYAN, C_YEL, C_MAG, C_GRN, C_SLATE, C_DRED, C_BLUE, C_DBLUE, C_RED, C_CYAN, C_MAG, C_YEL, C_SLATE, C_GRN, C_DRED, C_BLUE, C_MAG, C_CYAN, C_SLATE, C_BLUE, C_DBLUE, C_YEL, C_MAG, C_RED, C_DRED, C_BLUE, C_SLATE, C_RED, C_CYAN, C_BLK, C_SLATE, C_MAG, C_RED, C_DBLUE, C_BLUE, C_DRED, C_GRN, C_GRN, C_MAG, C_BLUE, C_YEL, C_BLUE, C_SLATE, C_MAG, C_CYAN, C_BLUE, C_DRED, C_GRN, C_RED, C_MAG, C_BLUE, C_CYAN, C_YEL];

export default function App() {
  const x = d3.scaleLinear().domain([0, X_MAX]).range([51.5, 620.5]);
  const y = d3.scaleLinear().domain([-40, 40]).range([446.5, 32.5]);
  const line = d3.line<P>().x((d) => x(d[0])).y((d) => y(d[1]));
  const font = "'Liberation Mono', 'DejaVu Sans Mono', monospace";
  return (
    <svg width={640} height={480} style={{ position: "absolute", left: 0, top: 0, background: "#fff" }}>
      <rect x={0} y={0} width={640} height={480} fill="#fff" />
      <g fill="none" strokeWidth={1} shapeRendering="crispEdges">
        {seriesData.map((s, i) => (
          <path key={i} d={line(s) || ""} stroke={seriesColors[i]} />
        ))}
        <path d={line(zeroLine) || ""} stroke="#cc0000" />
      </g>
      <g stroke="#000" strokeWidth={1} shapeRendering="crispEdges" fill="none">
        <rect x={51.5} y={32.5} width={569} height={414} />
        {yTicks.map((t) => (
          <g key={"y" + t}>
            <line x1={51.5} x2={57.5} y1={y(t)} y2={y(t)} />
            <line x1={620.5} x2={614.5} y1={y(t)} y2={y(t)} />
          </g>
        ))}
        {xTicks.map((t) => (
          <g key={"x" + t}>
            <line x1={x(t)} x2={x(t)} y1={446.5} y2={440.5} />
            <line x1={x(t)} x2={x(t)} y1={32.5} y2={38.5} />
          </g>
        ))}
      </g>
      <g fontFamily={font} fontSize={11.5} fill="#000">
        {yTicks.map((t) => (
          <text key={"yl" + t} x={44} y={y(t) + 4} textAnchor="end">{t}</text>
        ))}
        {xTicks.map((t) => (
          <text key={"xl" + t} x={x(t)} y={462} textAnchor="middle">{t}</text>
        ))}
        <text x={335.5} y={19} textAnchor="middle">{title}</text>
        <text x={335.5} y={477} textAnchor="middle">{xLabel}</text>
        <text transform="translate(15,239) rotate(-90)" textAnchor="middle">{yLabel}</text>
      </g>
    </svg>
  );
}
